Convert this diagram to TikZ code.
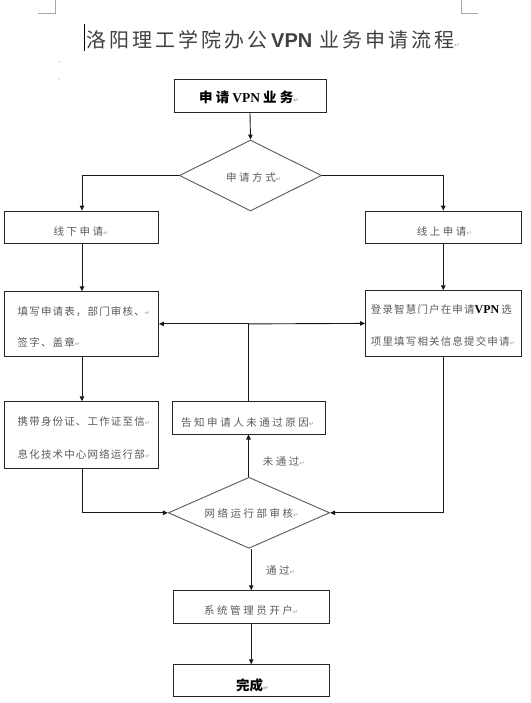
\documentclass[tikz,border=0pt]{standalone}
\usepackage{fontspec}
\setmainfont{Liberation Serif}
\newfontfamily\cjk{Noto Sans CJK SC}
\newfontfamily\cjka{Noto Sans CJK SC}[LetterSpace=11]
\newfontfamily\cjkb{Noto Sans CJK SC}[LetterSpace=24]
\newfontfamily\cjkt{Noto Sans CJK SC}[LetterSpace=15]
\newfontfamily\lsans{Liberation Sans}
\newfontfamily\djv{DejaVu Sans}
\usetikzlibrary{shapes.geometric,arrows.meta}
\definecolor{txtgray}{HTML}{5A5A5A}
\definecolor{boxline}{HTML}{262626}
\definecolor{diagray}{HTML}{595959}
\definecolor{markgray}{HTML}{A0A0A0}
\definecolor{titlegray}{HTML}{404040}
\newcommand\pmk{{\djv\fontsize{6.5}{6.5}\selectfont\textcolor{markgray}{↵}}}
\begin{document}
\begin{tikzpicture}[x=1pt,y=-1pt,
  box/.style={draw=boxline,line width=0.9pt,rectangle,inner sep=0pt},
  dia/.style={draw=diagray,line width=0.9pt,diamond,inner sep=0pt,aspect=2},
  txt/.style={anchor=west,inner sep=0pt,text=txtgray,font=\cjkb\fontsize{10.5}{10.5}\selectfont},
  txta/.style={anchor=west,inner sep=0pt,text=txtgray,font=\cjka\fontsize{10.5}{10.5}\selectfont},
  btxt/.style={anchor=west,inner sep=0pt,text=black,font=\cjkb\bfseries\fontsize{13.5}{13.5}\selectfont},
  dtxt/.style={anchor=west,inner sep=0pt,text=black,font=\cjk\bfseries\fontsize{13.5}{13.5}\selectfont},
  conn/.style={draw=black!90,line width=0.9pt},
  arr/.style={conn,-{Triangle[length=5pt,width=4.5pt]}},
  cornermark/.style={draw=black!35,line width=0.6pt}]
\useasboundingbox (0,0) rectangle (530,703);
% page corner marks, cursor and empty paragraph marks
\draw[cornermark] (38,13.3) -- (55,13.3) -- (55,0);
\draw[cornermark] (478,13.3) -- (461,13.3) -- (461,0);
\draw[line width=1.4pt,black] (84.5,24) -- (84.5,51.5);
\node[inner sep=0pt,font=\djv\fontsize{3.5}{3.5}\selectfont,text=markgray] (pm1) at (59.5,62) {↵};
\node[inner sep=0pt,font=\djv\fontsize{3.5}{3.5}\selectfont,text=markgray] (pm2) at (59.5,79) {↵};
% title
\node[anchor=west,inner sep=0pt,text=titlegray,font=\cjkt\fontsize{20}{20}\selectfont] (title) at (86,39.5)
  {洛阳理工学院办公\hspace{4pt}{\lsans\bfseries VPN}\hspace{7pt}业务申请流程\pmk};
% boxes
\node[box,minimum width=152,minimum height=33] (start) at (250,95.8) {};
\node[dia,minimum width=142,minimum height=71] (way) at (250.5,175.5) {};
\node[box,minimum width=154,minimum height=32.3] (off) at (81.5,227.2) {};
\node[box,minimum width=155.5,minimum height=32.3] (on) at (443.25,227.2) {};
\node[box,minimum width=154,minimum height=64.3] (fill) at (81.5,323.9) {};
\node[box,minimum width=155.5,minimum height=65.3] (login) at (443.25,323.4) {};
\node[box,minimum width=153,minimum height=32.3] (notify) at (248.5,417.9) {};
\node[box,minimum width=154,minimum height=66.6] (carry) at (81.5,435) {};
\node[dia,minimum width=161.3,minimum height=71] (check) at (249,512.8) {};
\node[box,minimum width=155.7,minimum height=32.6] (sys) at (251.2,607) {};
\node[box,minimum width=155.7,minimum height=32] (done) at (251.2,680.7) {};
% texts
\node[btxt] (tstart) at (199,97.7) {申请\hspace{3pt}{\rmfamily\bfseries VPN}\hspace{3pt}业务\pmk};
\node[txt] (tway) at (226,177.7) {申请方式\pmk};
\node[txt] (toff) at (53.3,231.5) {线下申请\pmk};
\node[txt] (ton) at (416.7,231.2) {线上申请\pmk};
\node[txta] (tfill1) at (17.5,311.5) {填写申请表，部门审核、\pmk};
\node[txta] (tfill2) at (17.5,342.5) {签字、盖章\pmk};
\node[txta] (tlog1) at (370.7,310) {登录智慧门户在申请{\rmfamily\bfseries\fontsize{12}{12}\selectfont\textcolor{black}{VPN}}\hspace{2pt}选};
\node[txta] (tlog2) at (370.7,341) {项里填写相关信息提交申请\pmk};
\node[txt] (tnotify) at (181,422.3) {告知申请人未通过原因\pmk};
\node[txta] (tcarry1) at (17.5,421.8) {携带身份证、工作证至信\pmk};
\node[txta] (tcarry2) at (17.5,454.5) {息化技术中心网络运行部\pmk};
\node[txt] (tno) at (262.7,462) {未通过\pmk};
\node[txt] (tcheck) at (204.3,513.5) {网络运行部审核\pmk};
\node[txt] (tyes) at (266,570) {通过\pmk};
\node[txt] (tsys) at (204,611) {系统管理员开户\pmk};
\node[dtxt] (tdone) at (236,685) {完成\pmk};
% connectors
\draw[arr] (start.south) -- (way.north);
\draw[arr] (way.west) -| ([xshift=0.5pt]off.north);
\draw[arr] (way.east) -| (on.north);
\draw[arr] ([xshift=0.5pt]off.south) -- ([xshift=0.5pt]fill.north);
\draw[arr] (on.south) -- (login.north);
\coordinate (junc) at (notify.north |- fill.east);
\draw[arr] (junc) -- (fill.east);
\draw[arr] (junc) -- (login.west);
\draw[conn] (notify.north) -- (junc);
\draw[arr] ([xshift=0.5pt]fill.south) -- ([xshift=0.5pt]carry.north);
\draw[arr] (notify.south |- check.north) -- (notify.south);
\draw[arr] ([xshift=0.5pt]carry.south) |- (check.west);
\draw[arr] (login.south) |- (check.east);
\draw[arr] (sys.north |- check.south) -- (sys.north);
\draw[arr] (sys.south) -- (done.north);
\end{tikzpicture}
\end{document}
